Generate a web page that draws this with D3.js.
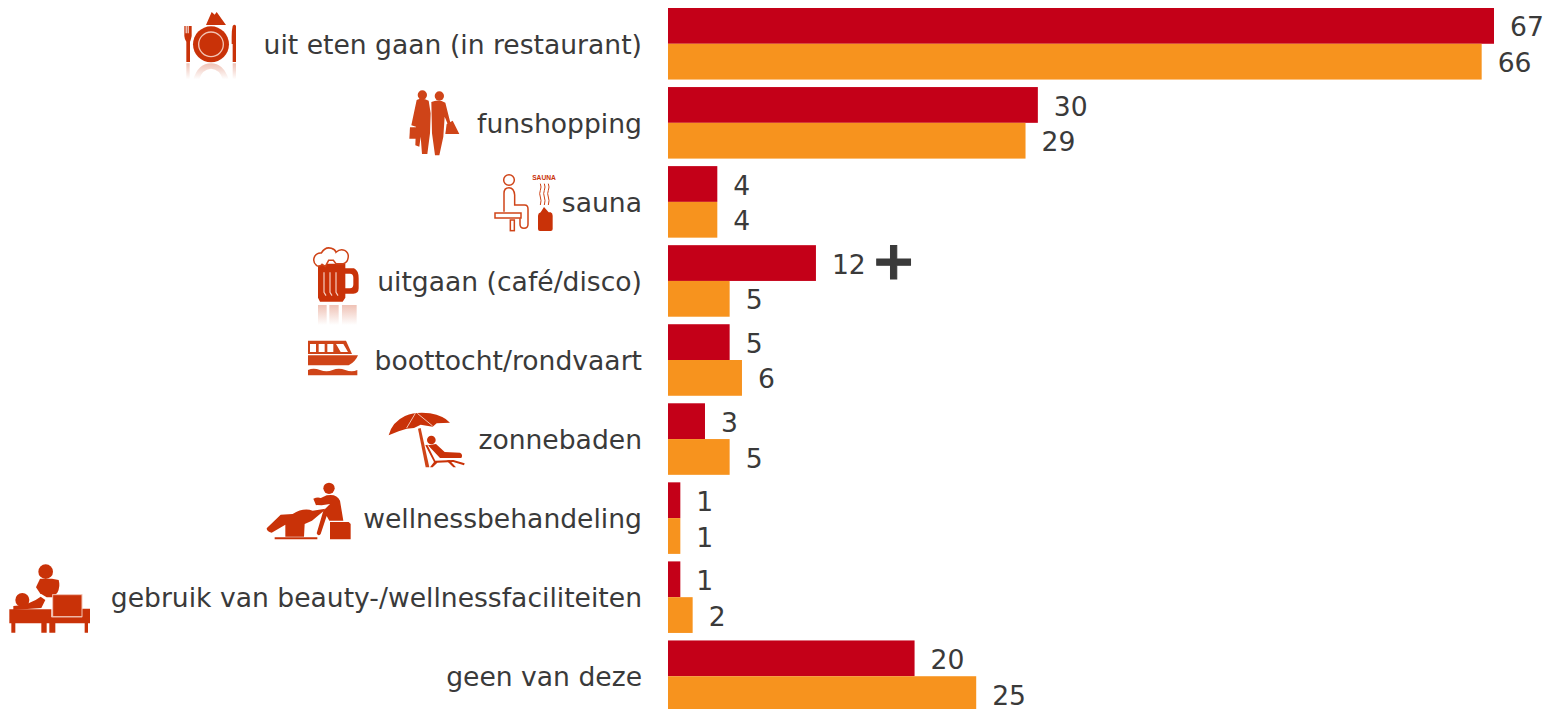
<!DOCTYPE html>
<html>
<head>
<meta charset="utf-8">
<script src="https://cdn.jsdelivr.net/npm/d3@7"></script>
<style>
  html, body { margin: 0; background: #fff; overflow: hidden; }
  text { font-family: "DejaVu Sans", Verdana, sans-serif; fill: #3a3a3a; }
</style>
</head>
<body>
<div class="chart"></div>
<script>
var svgWidth = 1545;
var svgHeight = 709;

var categories = ["uit eten gaan (in restaurant)", "funshopping", "sauna", "uitgaan (café/disco)",
    "boottocht/rondvaart", "zonnebaden", "wellnessbehandeling",
    "gebruik van beauty-/wellnessfaciliteiten", "geen van deze"];
var seriesNames = ["a", "b"];
var seriesA = [67, 30, 4, 12, 5, 3, 1, 1, 20];
var seriesB = [66, 29, 4, 5, 6, 5, 1, 2, 25];
var seriesColors = ["#c40018", "#f7931e"];
var iconColor = "#c93208";
var iconColorSoft = "#cf4418";

var svg = d3.select(".chart")
    .append("svg")
    .attr("width", svgWidth)
    .attr("height", svgHeight)
    .style("display", "block");

var x = d3.scaleLinear().domain([0, 67]).range([668, 1494]);
var y = d3.scaleBand().domain(categories).range([8, 712]).paddingInner(0.095);
var ySub = d3.scaleBand().domain(seriesNames).range([0, y.bandwidth()]);

// Category labels
var leftAxis = d3.axisLeft(y).tickSize(0).tickPadding(26);
svg.append("g")
    .attr("transform", "translate(668, 1.5)")
    .call(leftAxis)
    .call(g => g.select(".domain").remove())
    .selectAll("text")
    .style("font-size", "26.6px")
    .style("font-family", '"DejaVu Sans", Verdana, sans-serif')
    .attr("fill", "#3a3a3a");

// Bars and value labels
[seriesA, seriesB].forEach(function(values, s) {
    var rows = categories.map((c, i) => ({ cat: c, value: values[i] }));
    var g = svg.append("g");
    g.selectAll("rect")
        .data(rows)
        .enter()
        .append("rect")
        .attr("x", x(0))
        .attr("y", d => y(d.cat) + ySub(seriesNames[s]))
        .attr("width", d => x(d.value) - x(0))
        .attr("height", ySub.bandwidth())
        .attr("fill", seriesColors[s]);
    g.selectAll("text")
        .data(rows)
        .enter()
        .append("text")
        .attr("x", d => x(d.value) + 16)
        .attr("y", d => y(d.cat) + ySub(seriesNames[s]) + ySub.bandwidth() / 2 + 1)
        .attr("dy", "0.36em")
        .style("font-size", "26.6px")
        .text(d => d.value);
});

// The plus marker next to the uitgaan value
svg.append("text")
    .attr("x", x(12) + 56)
    .attr("y", y("uitgaan (café/disco)") + ySub("a") + ySub.bandwidth() / 2)
    .attr("dy", "0.36em")
    .attr("text-anchor", "start")
    .style("font-size", "54px")
    .style("font-weight", "bold")
    .style("stroke", "#3a3a3a")
    .style("stroke-width", "1")
    .attr("transform", "translate(-1, -3)")
    .text("+");

// Icons: drawn in 3x zoom pixels, then scaled down
var defs = svg.append("defs");
var fade = defs.append("linearGradient")
    .attr("id", "fade").attr("x1", 0).attr("x2", 0).attr("y1", 0).attr("y2", 1);
fade.append("stop").attr("offset", 0).attr("stop-color", iconColor).attr("stop-opacity", 0.3);
fade.append("stop").attr("offset", 1).attr("stop-color", iconColor).attr("stop-opacity", 0);

function icon(ox, oy, color) {
    return svg.append("g")
        .attr("transform", `translate(${ox}, ${oy}) scale(${1 / 3})`)
        .attr("fill", color || iconColor);
}

// restaurant
var plate = icon(170, 0);
plate.append("circle").attr("cx", 123).attr("cy", 133).attr("r", 54);
plate.append("circle").attr("cx", 123).attr("cy", 133).attr("r", 37)
    .attr("fill", "none").attr("stroke", "#f3c4b4").attr("stroke-width", 4);
plate.append("path").attr("d", "M108 75L125 36L134 44L140 36L168 75Z");
plate.append("path").attr("d", "M43 78H47V100H50V78H53V100H56V78H60V100H59V78H65V108Q62 122 60 125V186H49V125Q44 120 43 108Z");
plate.append("path").attr("d", "M188 78Q194 70 198 78V186H188V132H185V110Q185 90 188 78Z");
plate.append("path").attr("fill", "url(#fade)")
    .attr("d", "M49 190H59V238H49ZM188 190H198V238H188ZM70 238Q85 190 123 190Q160 190 176 238H158Q150 208 123 206Q96 208 88 238Z");

// shoppers
var shoppers = icon(170, 0, iconColorSoft);
shoppers.append("circle").attr("cx", 757).attr("cy", 285).attr("r", 14);
shoppers.append("circle").attr("cx", 808).attr("cy", 288).attr("r", 14);
shoppers.append("path").attr("d", "M740 300Q757 292 776 302L782 340L780 400L772 462H756L752 410L748 440L736 436L738 380L724 376Z");
shoppers.append("path").attr("d", "M784 306Q806 296 826 308L842 372L834 374L824 350L820 410L808 466H795L786 400Z");
shoppers.append("path").attr("d", "M720 382H750V416H718Z");
shoppers.append("path").attr("d", "M830 372L848 362L868 402H826Z");

// sauna: man in outline, steam and kettle
var sauna = icon(290, 165);
var outline = sauna.append("g").attr("fill", "none").attr("stroke", iconColorSoft).attr("stroke-width", 4.5);
outline.append("circle").attr("cx", 657).attr("cy", 45).attr("r", 16);
outline.append("path").attr("d", "M642 140V85Q642 68 657 68Q672 68 674 90V120H704Q714 120 714 132V178Q714 190 702 190Q690 190 690 178V160");
outline.append("rect").attr("x", 615).attr("y", 144).attr("width", 78).attr("height", 15);
outline.append("rect").attr("x", 661).attr("y", 165).attr("width", 12).attr("height", 32);
sauna.append("text")
    .attr("x", 762).attr("y", 46).attr("text-anchor", "middle")
    .style("font-size", "20px").style("font-weight", "bold")
    .style("font-family", '"Liberation Sans", sans-serif')
    .style("fill", iconColor)
    .text("SAUNA");
sauna.selectAll(".steam")
    .data([751, 763, 775])
    .enter()
    .append("path")
    .attr("fill", "none").attr("stroke", iconColorSoft).attr("stroke-width", 3)
    .attr("d", d => `M${d} 56q4 10 0 20q-4 10 0 20q4 10 0 24`);
sauna.append("path").attr("d", "M752 142L762 126L776 142H782Q788 144 788 152V192Q788 198 782 198H750Q744 198 744 192V152Q744 144 752 142Z");

// beer mug
var beer = icon(290, 165);
beer.append("path").attr("d", "M84 296H166V310H192Q206 316 206 340V370Q206 386 190 386H166V398L158 410H90L84 398ZM166 326V370H180Q190 370 190 358V338Q190 326 180 326Z");
beer.append("path").attr("fill", "none").attr("stroke", "#f6d0c2").attr("stroke-width", 3.5)
    .attr("d", "M102 322V382L108 392M120 322V382L126 392M138 322V382L144 392");
beer.append("path").attr("fill", "#fff").attr("stroke", iconColorSoft).attr("stroke-width", 4.5)
    .attr("d", "M80 302Q66 290 74 274Q82 262 94 264Q106 244 124 250Q136 254 138 262Q150 250 164 256Q178 264 174 280Q172 292 160 296H138L130 286H116L106 304L96 298Q90 306 80 302Z");
beer.append("path").attr("fill", "url(#fade)")
    .attr("d", "M84 420H110V480H84ZM118 420H146V480H118ZM156 420H200V480H156Z");

// boat
var boat = icon(290, 330, iconColorSoft);
boat.append("path").attr("fill-rule", "evenodd")
    .attr("d", "M54 32H168L186 72H54ZM60 42V66H78V42ZM86 42V66H104V42ZM112 42V66H130V42ZM138 42L152 66H174L160 42Z");
boat.append("path").attr("d", "M54 76H204Q196 96 176 106H54Z");
boat.append("path").attr("d", "M54 120Q70 112 90 120T128 120T166 120T202 120V136H54Z");

// sunbather
var sun = icon(290, 330);
sun.append("path").attr("d", "M296 316Q306 276 345 258Q378 244 420 250Q462 258 480 278L440 280L428 290L392 284L372 294L350 296L326 304Z");
sun.append("path").attr("fill", "none").attr("stroke", "#f3c4b4").attr("stroke-width", 3)
    .attr("d", "M376 250L350 294M382 250L428 288");
sun.append("path").attr("fill", iconColorSoft).attr("d", "M384 296L392 294L418 412H407Z");
sun.append("circle").attr("cx", 424).attr("cy", 330).attr("r", 13);
sun.append("path").attr("d", "M414 346L438 342L464 366L510 368Q520 374 514 384L450 384Z");
sun.append("path").attr("d", "M406 346L412 344L436 392L490 390L524 400L522 406L490 396L442 398L428 412H420L432 396Z");
sun.append("path").attr("d", "M470 392L478 390L498 412H490Z");

// wellness chair
var chair = icon(0, 480);
chair.append("circle").attr("cx", 987).attr("cy", 25).attr("r", 17);
chair.append("path").attr("d", "M950 60L980 46Q1010 40 1020 62L1030 122H988L980 108L962 162Q955 170 950 160L970 92L990 72L965 76L950 75Z");
chair.append("path").attr("d", "M990 126H1046L1052 132V178H990Z");
chair.append("path").attr("d", "M940 56Q960 48 968 60Q966 72 948 76Z");
chair.append("path").attr("d", "M800 145L842 104L878 102Q910 82 938 92L976 86L970 94L936 122L914 132L912 170H856V134L815 158Q800 155 800 145Z");
chair.append("path").attr("d", "M824 172H952V178H824Z");

// massage table
var table = icon(0, 480);
table.append("circle").attr("cx", 137).attr("cy", 275).attr("r", 22);
table.append("path").attr("d", "M120 296L156 296L176 300Q182 320 172 338L158 352L140 352L120 340L108 322Z");
table.append("circle").attr("cx", 67).attr("cy", 360).attr("r", 21);
table.append("path").attr("d", "M40 378Q90 375 122 350L136 360L124 384L40 390Z");
table.append("path").attr("d", "M28 388H154V412H246V386H270V430H264V458H254V430H166V458H148V430H140V458H124V430H46V458H34V430H28Z");
table.append("rect").attr("x", 158).attr("y", 344).attr("width", 88).attr("height", 66)
    .attr("stroke", "#f3c4b4").attr("stroke-width", 3);
</script>
</body>
</html>
